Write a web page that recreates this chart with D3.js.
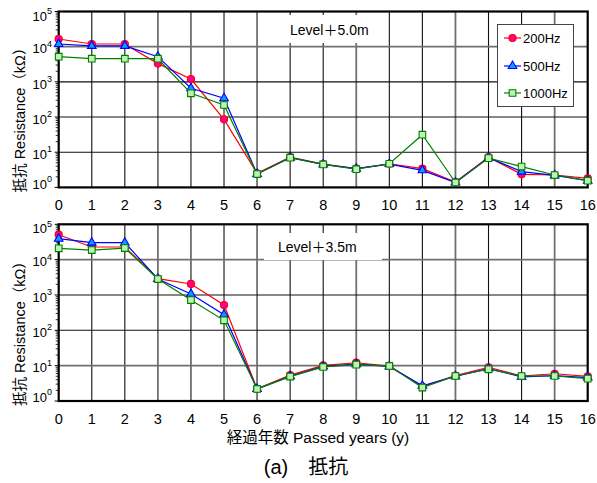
<!DOCTYPE html>
<html>
<head>
<meta charset="utf-8">
<script src="https://cdn.jsdelivr.net/npm/d3@7/dist/d3.min.js"></script>
<style>
  html, body { margin: 0; padding: 0; background: #fff; }
  svg { display: block; }
  text { font-family: "Liberation Sans", Arial, "Noto Sans CJK JP", sans-serif; fill: #000; }
</style>
</head>
<body>
<div id="chart"></div>
<script>
// Passed years (x categories)
const years = [0, 1, 2, 3, 4, 5, 6, 7, 8, 9, 10, 11, 12, 13, 14, 15, 16];

// Resistance (kΩ) at Level +5.0m
const top200  = [16500, 11900, 11900, 3300, 1200, 86, 2.5, 7.2, 4.6, 3.4, 4.7, 3.4, 1.42, 7.2, 2.36, 2.25, 1.8];
const top500  = [11900, 10500, 10500, 5200, 656, 341, 2.4, 7.0, 4.5, 3.4, 4.6, 3.06, 1.38, 7.0, 2.8, 2.2, 1.55];
const top1000 = [5200, 4550, 4550, 4550, 473, 220, 2.4, 7.0, 4.5, 3.3, 4.7, 31.5, 1.38, 6.8, 3.9, 2.25, 1.55];

// Resistance (kΩ) at Level +3.5m
const bot200  = [50800, 22800, 22800, 2900, 2050, 520, 2.2, 5.4, 10.2, 12.1, 9.8, 2.55, 5.2, 9.0, 5.1, 5.9, 5.0];
const bot500  = [39100, 30200, 30200, 2830, 1070, 277, 2.2, 5.0, 9.5, 11.0, 9.5, 2.7, 5.0, 8.3, 4.8, 5.2, 4.6];
const bot1000 = [20900, 18700, 21300, 2830, 720, 192, 2.2, 4.9, 9.2, 10.7, 9.8, 2.4, 5.1, 7.9, 5.1, 5.1, 4.3];

// Axis ticks and labels
const yExponents = [0, 1, 2, 3, 4, 5];
const seriesNames = ["200Hz", "500Hz", "1000Hz"];
const panelLabels = ["Level＋5.0m", "Level＋3.5m"];
const yTitle = "抵抗  Resistance（kΩ）";
const xTitle = "経過年数  Passed years (y)";
const caption = "(a)　抵抗";

const W = 597, H = 483;
const svg = d3.select("#chart").append("svg")
  .attr("width", W).attr("height", H)
  .attr("viewBox", `0 0 ${W} ${H}`);
svg.append("rect").attr("width", W).attr("height", H).attr("fill", "#fff");

const x = d3.scaleLinear().domain([0, 16]).range([58.7, 587.7]);

const styles = [
  { line: "#ff0000", fill: "#ff0090", stroke: "#ff0000", shape: d3.symbolCircle, size: 40 },
  { line: "#0000ff", fill: "#0a9cff", stroke: "#0000ff", shape: d3.symbolTriangle, size: 32 },
  { line: "#008000", fill: "#bdf5b0", stroke: "#008000", shape: d3.symbolSquare, size: 44 }
];

const panels = [
  { top: 11.5, bottom: 187.4, series: [top200, top500, top1000], label: panelLabels[0],
    labelX: 290, labelY: 30, box: [266, 15, 118, 28], xLabelY: 205, grayH: [4] },
  { top: 224.3, bottom: 401, series: [bot200, bot500, bot1000], label: panelLabels[1],
    labelX: 278, labelY: 247, box: [264, 233, 118, 27], xLabelY: 418.5, grayH: [1, 4] }
];

panels.forEach((p, pi) => {
  const y = d3.scaleLog().domain([1, 1e5]).range([p.bottom, p.top]);
  const g = svg.append("g");

  // vertical grid lines
  g.selectAll(".vg").data(years.filter(v => v > 0 && v < 16)).join("line")
    .attr("x1", d => x(d)).attr("x2", d => x(d))
    .attr("y1", p.top).attr("y2", p.bottom)
    .attr("stroke", d => d % 3 === 0 ? "#707070" : "#111")
    .attr("stroke-width", d => d % 3 === 0 ? 1.8 : 1.1);

  // horizontal grid lines at decades
  g.selectAll(".hg").data(yExponents.filter(e => e > 0 && e < 5)).join("line")
    .attr("x1", x(0)).attr("x2", x(16))
    .attr("y1", d => y(Math.pow(10, d))).attr("y2", d => y(Math.pow(10, d)))
    .attr("stroke", d => p.grayH.includes(d) ? "#707070" : "#111")
    .attr("stroke-width", d => p.grayH.includes(d) ? 1.8 : 1.1);

  // minor log ticks on the left axis
  const minors = [];
  for (let e = 0; e < 5; e++) for (let m = 2; m <= 9; m++) minors.push(m * Math.pow(10, e));
  g.selectAll(".mt").data(minors).join("line")
    .attr("x1", x(0) - 3).attr("x2", x(0))
    .attr("y1", d => y(d)).attr("y2", d => y(d))
    .attr("stroke", "#000").attr("stroke-width", 0.8);
  g.selectAll(".Mt").data(yExponents).join("line")
    .attr("x1", x(0) - 4).attr("x2", x(0))
    .attr("y1", d => y(Math.pow(10, d))).attr("y2", d => y(Math.pow(10, d)))
    .attr("stroke", "#000").attr("stroke-width", 1);

  // frame
  g.append("rect")
    .attr("x", x(0)).attr("y", p.top)
    .attr("width", x(16) - x(0)).attr("height", p.bottom - p.top)
    .attr("fill", "none").attr("stroke", "#000").attr("stroke-width", 2.2);

  // panel label on a white box
  g.append("rect")
    .attr("x", p.box[0]).attr("y", p.box[1]).attr("width", p.box[2]).attr("height", p.box[3])
    .attr("fill", "#fff");
  g.append("text")
    .attr("x", p.labelX).attr("y", p.labelY).attr("dy", "0.36em")
    .attr("font-size", 14).text(p.label);

  // y tick labels 10^n
  const yl = g.selectAll(".yl").data(yExponents).join("text")
    .attr("x", 52)
    .attr("y", d => Math.min(p.bottom - 3.5, Math.max(p.top + 4.5, y(Math.pow(10, d)) + 2)))
    .attr("dy", "0.36em")
    .attr("text-anchor", "end")
    .attr("font-size", 13);
  yl.append("tspan").text("10");
  yl.append("tspan").attr("font-size", 9).attr("dy", "-0.75em").text(d => d);

  // x tick labels
  g.selectAll(".xl").data(years).join("text")
    .attr("x", d => x(d)).attr("y", p.xLabelY).attr("dy", "0.36em")
    .attr("text-anchor", "middle").attr("font-size", 14.5)
    .text(d => d);

  // y axis title
  g.append("text")
    .attr("transform", `translate(25,${p.bottom + 5}) rotate(-90)`)
    .attr("text-anchor", "start").attr("font-size", 14.5)
    .text(yTitle);

  // series lines and markers
  p.series.forEach((vals, si) => {
    const s = styles[si];
    const pts = years.map((yr, i) => [x(yr), y(vals[i])]);
    g.append("path")
      .attr("d", d3.line()(pts))
      .attr("fill", "none").attr("stroke", s.line).attr("stroke-width", 1.2);
    g.selectAll(".m" + si).data(pts).join("path")
      .attr("transform", d => `translate(${d[0]},${d[1]})`)
      .attr("d", d3.symbol().type(s.shape).size(s.size))
      .attr("fill", s.fill).attr("stroke", s.stroke).attr("stroke-width", 1.1);
  });

  // legend in the upper panel
  if (pi === 0) {
    const lg = svg.append("g");
    lg.append("rect").attr("x", 497.5).attr("y", 24.5).attr("width", 76).attr("height", 82)
      .attr("fill", "#fff").attr("stroke", "#444").attr("stroke-width", 1);
    const ly = [38, 66, 93];
    seriesNames.forEach((name, si) => {
      const s = styles[si];
      lg.append("line").attr("x1", 504).attr("x2", 521).attr("y1", ly[si]).attr("y2", ly[si])
        .attr("stroke", s.line).attr("stroke-width", 1.2);
      lg.append("path").attr("transform", `translate(512.5,${ly[si]})`)
        .attr("d", d3.symbol().type(s.shape).size(s.size))
        .attr("fill", s.fill).attr("stroke", s.stroke).attr("stroke-width", 1.1);
      lg.append("text").attr("x", 523).attr("y", ly[si]).attr("dy", "0.36em")
        .attr("font-size", 13).text(name);
    });
  }
});

// x axis title and caption
svg.append("text").attr("x", 318).attr("y", 437).attr("dy", "0.36em")
  .attr("text-anchor", "middle").attr("font-size", 15.5).text(xTitle);
svg.append("text").attr("x", 306).attr("y", 467).attr("dy", "0.36em")
  .attr("text-anchor", "middle").attr("font-size", 20).text(caption);
</script>
</body>
</html>
